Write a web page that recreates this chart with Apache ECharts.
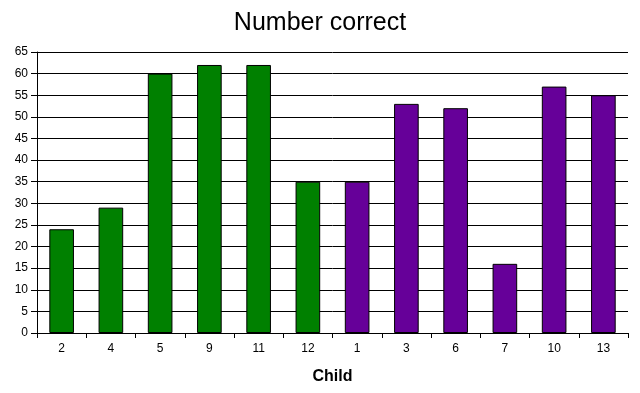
<!DOCTYPE html>
<html><head><meta charset="utf-8">
<script src="https://cdn.jsdelivr.net/npm/echarts@6/dist/echarts.min.js"></script>
<style>html,body{margin:0;padding:0;background:#fff}#c{width:640px;height:393px}</style>
</head><body><div id="c"></div>
<script>
const categories = ['2','4','5','9','11','12','1','3','6','7','10','13'];
const values = [24, 29, 60, 62, 62, 35, 35, 53, 52, 16, 57, 55];
const groups = ['A','A','A','A','A','A','B','B','B','B','B','B'];
const groupColors = {A: '#008000', B: '#660099'};
const yTicks = {min: 0, max: 65, interval: 5};

const chart = echarts.init(document.getElementById('c'), null, {renderer: 'canvas'});
chart.setOption({
  animation: false,
  backgroundColor: '#fff',
  title: {
    text: 'Number correct', left: 'center', top: 6,
    textStyle: {fontFamily: 'Liberation Sans', fontSize: 25, fontWeight: 'normal', color: '#000'}
  },
  grid: {left: 37, right: 12, top: 52, bottom: 60},
  xAxis: {
    type: 'category', data: categories,
    name: 'Child', nameLocation: 'middle', nameGap: 36,
    nameTextStyle: {fontFamily: 'Liberation Sans', fontSize: 16, fontWeight: 'bold', color: '#000'},
    axisLine: {lineStyle: {color: '#000', width: 1}},
    axisTick: {show: true, length: 5, lineStyle: {color: '#000'}, alignWithLabel: false},
    axisLabel: {fontFamily: 'Liberation Sans', fontSize: 12, color: '#000', margin: 10}
  },
  yAxis: {
    type: 'value', min: yTicks.min, max: yTicks.max, interval: yTicks.interval,
    axisLine: {show: true, lineStyle: {color: '#000', width: 1}},
    axisTick: {show: true, length: 6, lineStyle: {color: '#000'}},
    axisLabel: {fontFamily: 'Liberation Sans', fontSize: 12, color: '#000', margin: 9},
    splitLine: {show: true, lineStyle: {color: '#000', width: 1}}
  },
  series: [{
    type: 'bar',
    barWidth: '50%',
    data: values.map((v, i) => ({value: v, itemStyle: {color: groupColors[groups[i]]}})),
    itemStyle: {borderColor: '#000', borderWidth: 1}
  }]
});
</script></body></html>
